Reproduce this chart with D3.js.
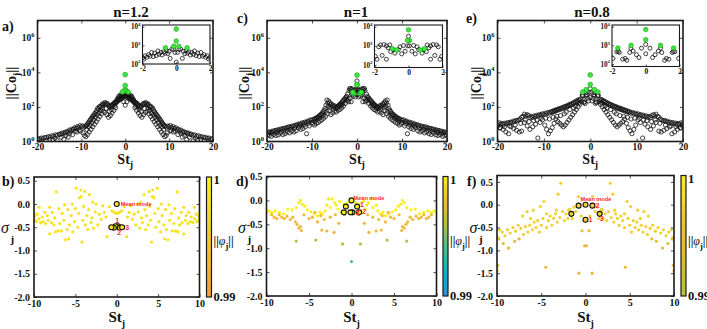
<!DOCTYPE html>
<html>
<head>
<meta charset="utf-8">
<script src="https://cdn.jsdelivr.net/npm/d3@7"></script>
<style>
body { margin: 0; background: #fff; }
text { font-family: "Liberation Serif", "Times New Roman", serif; font-weight: bold; fill: #111; }
</style>
</head>
<body>
<script>
// ---- data (St>0 half; the spectrum comes in conjugate pairs, mirrored at draw time) ----
var titles = ['n=1.2', 'n=1', 'n=0.8'];
var stTicksTop = [-20, -10, 0, 10, 20];
var coExp = [0, 2, 4, 6];
var insetStTicks = [-2, 0, 2];
var insetCoExp = [2, 3, 4];
var stTicksBot = [-10, -5, 0, 5, 10];
var sigmaTicks = [0.5, 0, -0.5, -1, -1.5, -2];

// [St, log10 ||Co||]
var coA_near = [[0,2.10],[0.08,2.62],[0.16,2.78],[0.26,2.80],[0.36,2.30],[0.42,2.68],[0.5,2.55],[0.58,2.72],[0.66,2.58],[0.74,2.66],[0.84,2.48],[0.92,2.62],[1.02,2.52],[1.08,2.70],[1.18,2.45],[1.28,2.58],[1.36,2.40],[1.46,2.62],[1.55,2.42],[1.64,2.50],[1.74,2.36],[1.84,2.44],[1.92,2.26],[1.98,2.34]];
var coA_upper = [[2.1,2.30],[2.25,2.22],[2.4,2.26],[2.55,2.15],[2.7,2.20],[2.85,2.08],[3.0,2.12],[3.15,2.02],[3.3,2.06],[3.5,1.98],[3.7,2.05],[3.9,2.12],[4.1,2.18],[4.3,2.22],[4.5,2.15],[4.7,2.25],[4.9,2.18],[5.1,2.10],[5.3,2.16],[5.5,2.05],[5.7,1.98],[5.9,2.02],[6.1,1.88],[6.3,1.92],[6.5,1.78],[6.7,1.70],[6.9,1.62],[7.1,1.55],[7.3,1.48],[7.5,1.42],[7.7,1.35],[7.9,1.28],[8.1,1.20],[8.3,1.12],[8.5,1.05],[8.7,0.98],[8.9,0.92],[9.1,0.88],[9.4,0.82],[9.7,0.90],[10.0,0.85],[10.3,0.92],[10.6,0.80],[10.9,0.86],[11.2,0.75],[11.5,0.80],[11.8,0.70],[12.1,0.72],[12.4,0.62],[12.7,0.66],[13.0,0.55],[13.3,0.58],[13.6,0.50],[13.9,0.52],[14.2,0.45],[14.5,0.48],[14.8,0.40],[15.1,0.42],[15.5,0.36],[15.9,0.38],[16.3,0.30],[16.7,0.33],[17.1,0.26],[17.5,0.28],[17.9,0.22],[18.3,0.24],[18.7,0.18],[19.1,0.20],[19.5,0.14],[19.9,0.16]];
var coA_lower = [[2.2,1.95],[2.6,1.80],[3.0,1.65],[3.4,1.50],[3.8,1.40],[4.2,1.55],[4.6,1.68],[5.0,1.75],[5.4,1.60],[5.8,1.45],[6.2,1.30],[6.6,1.15],[7.0,1.00],[7.4,0.85],[7.8,0.70],[8.2,0.55],[8.6,0.40],[9.0,0.28],[9.3,0.35],[9.6,0.50],[10.2,0.60],[11.0,0.55],[12.0,0.40],[13.0,0.25],[14.0,0.12],[15.5,0.04],[16.5,0.10],[18.0,0.05]];
var coA_mid = [[2.4,2.05],[3.2,1.85],[3.6,1.75],[4.4,1.90],[5.2,1.92],[5.6,1.80],[6.0,1.65],[6.4,1.55],[6.8,1.40],[7.2,1.25],[7.6,1.10],[8.0,0.95],[8.4,0.85],[8.8,0.70],[10.5,0.65],[11.4,0.60],[12.6,0.48],[13.5,0.35],[14.6,0.25],[16.0,0.20],[17.2,0.12],[19.0,0.05]];
var coA_green = [[0,3.87],[0,3.23],[0.15,2.95],[0.64,2.87]];

var coC_near = [[0,3.50],[0.05,3.00],[0.2,2.72],[0.3,3.02],[0.4,2.58],[0.5,2.95],[0.6,2.80],[0.8,2.62],[0.9,2.80],[1.05,2.70],[1.1,3.05],[1.2,2.90],[1.3,3.00],[1.3,2.30],[1.45,3.07],[1.55,2.50],[1.65,3.05],[1.75,2.95],[1.85,2.30],[1.95,2.45]];
var coC_upper = [[2.1,2.75],[2.3,2.62],[2.5,2.55],[2.7,2.48],[2.9,2.42],[3.1,2.35],[3.3,2.30],[3.5,2.22],[3.7,2.18],[3.9,2.12],[4.1,2.08],[4.3,2.02],[4.5,1.98],[4.7,1.95],[4.9,2.05],[5.1,2.00],[5.3,2.10],[5.5,2.05],[5.7,2.18],[5.9,2.12],[6.1,2.25],[6.3,2.35],[6.5,2.22],[6.7,2.40],[6.9,2.10],[7.1,1.90],[7.3,1.80],[7.5,1.72],[7.7,1.65],[7.9,1.58],[8.1,1.55],[8.3,1.50],[8.5,1.45],[8.7,1.42],[8.9,1.38],[9.1,1.35],[9.3,1.32],[9.5,1.30],[9.8,1.26],[10.1,1.22],[10.4,1.25],[10.7,1.15],[11.0,1.18],[11.3,1.10],[11.6,1.12],[11.9,1.05],[12.2,1.08],[12.5,1.00],[12.8,1.02],[13.1,0.95],[13.4,0.98],[13.7,0.90],[14.0,0.92],[14.3,0.86],[14.6,0.88],[14.9,0.82],[15.2,0.85],[15.5,0.78],[15.8,0.80],[16.1,0.74],[16.4,0.76],[16.7,0.70],[17.0,0.72],[17.3,0.66],[17.6,0.68],[17.9,0.62],[18.2,0.64],[18.5,0.58],[18.8,0.60],[19.1,0.54],[19.4,0.56],[19.7,0.50],[19.95,0.52]];
var coC_lower = [[2.2,2.35],[2.6,2.20],[3.0,2.05],[3.4,1.95],[3.8,1.85],[4.2,1.80],[4.6,1.70],[5.0,1.75],[5.4,1.65],[5.8,1.55],[6.2,1.80],[6.6,1.60],[7.0,1.45],[7.4,1.35],[7.8,1.25],[8.2,1.18],[8.6,1.10],[9.0,1.05],[9.4,0.95],[9.8,1.00],[10.6,0.90],[11.2,0.45],[11.5,0.85],[12.0,0.75],[12.5,0.70],[13.0,0.78],[13.5,0.62],[14.0,0.55],[14.5,0.60],[15.0,0.50],[15.5,0.55],[16.0,0.45],[16.5,0.40],[17.0,0.48],[17.5,0.38],[18.0,0.35],[18.5,0.40],[19.0,0.30],[19.5,0.33]];
var coC_mid = [[2.4,2.45],[3.2,2.18],[3.6,2.08],[4.4,1.90],[5.2,1.88],[6.0,1.95],[6.4,2.05],[6.8,1.75],[7.6,1.50],[8.4,1.35],[9.2,1.20],[10.0,1.10],[10.9,1.02],[11.8,0.95],[12.8,0.88],[13.8,0.78],[14.8,0.72],[15.8,0.65],[16.8,0.58],[17.8,0.52],[18.8,0.48],[19.8,0.40]];
var coC_green = [[0,3.84],[0.06,3.28],[0.7,2.78],[0.95,2.85]];

var coE_near = [[0,3.05],[0,2.55],[0.25,2.85],[0.4,2.35],[0.55,2.50],[0.75,2.70],[0.88,2.85],[0.95,2.62],[1.12,2.20],[1.22,2.30],[1.37,2.26],[1.57,2.62],[1.63,2.68],[1.72,2.66],[1.94,2.30]];
var coE_upper = [[2.1,2.45],[2.3,2.38],[2.5,2.42],[2.7,2.32],[2.9,2.36],[3.1,2.25],[3.3,2.30],[3.5,2.20],[3.7,2.24],[3.9,2.15],[4.1,2.18],[4.3,2.10],[4.5,2.14],[4.7,2.05],[4.9,2.08],[5.1,2.00],[5.3,2.04],[5.5,1.96],[5.7,2.00],[5.9,1.92],[6.1,1.95],[6.3,1.88],[6.5,1.92],[6.7,1.84],[6.9,1.88],[7.1,1.80],[7.3,1.84],[7.5,1.76],[7.7,1.80],[7.9,1.72],[8.1,1.76],[8.3,1.68],[8.5,1.72],[8.8,1.64],[9.1,1.68],[9.4,1.60],[9.7,1.64],[10.0,1.56],[10.3,1.60],[10.6,1.52],[10.9,1.56],[11.2,1.48],[11.5,1.52],[11.8,1.44],[12.1,1.48],[12.4,1.40],[12.7,1.45],[13.0,1.38],[13.3,1.50],[13.6,1.55],[13.9,1.48],[14.2,1.58],[14.5,1.45],[14.8,1.40],[15.1,1.30],[15.4,1.25],[15.7,1.20],[16.0,1.22],[16.3,1.15],[16.6,1.18],[16.9,1.10],[17.2,1.12],[17.5,1.05],[17.8,1.10],[18.1,1.02],[18.4,1.06],[18.7,0.98],[19.0,1.05],[19.3,1.00],[19.6,1.08],[19.9,1.02]];
var coE_lower = [[2.2,2.15],[2.6,2.00],[3.0,1.85],[3.4,1.70],[3.8,1.55],[4.2,1.40],[4.6,1.25],[5.0,1.10],[5.4,0.95],[5.8,0.85],[6.2,0.95],[6.6,1.05],[7.0,1.15],[7.4,1.30],[7.8,1.05],[8.2,0.80],[8.6,0.62],[9.0,0.45],[9.4,0.70],[9.8,0.95],[10.3,1.25],[10.8,1.10],[11.3,0.20],[11.8,1.00],[12.4,0.85],[13.0,0.70],[13.6,0.90],[14.2,1.10],[14.8,0.60],[15.3,0.55],[15.9,0.65],[16.5,0.75],[17.1,0.85],[17.6,0.45],[18.2,0.55],[18.8,0.70],[19.4,0.80],[19.9,0.90]];
var coE_mid = [[2.4,2.25],[3.2,2.05],[3.6,1.95],[4.4,1.85],[5.2,1.70],[5.6,1.60],[6.4,1.50],[7.2,1.45],[8.0,1.40],[8.8,1.30],[9.6,1.35],[10.6,1.35],[11.5,1.25],[12.2,1.20],[13.2,1.15],[14.0,1.25],[15.0,1.05],[16.2,0.95],[17.4,0.90],[18.5,0.85],[19.5,0.78]];
var coE_green = [[0,3.85],[0,3.30],[0.87,3.0],[1.65,2.86]];

// [St, sigma] (b: all modes have ||phi|| close to 1)
var normB = 0.998;
var sigB = [[0.3,-0.18],[0.6,-0.15],[0.9,-0.06],[1.2,-0.70],[1.3,-0.28],[1.5,-0.18],[1.7,-0.04],[1.9,-0.33],[2.1,-0.22],[2.3,-0.45],[2.5,0.00],[2.6,-0.17],[2.8,-0.52],[2.9,0.04],[3.0,-0.30],[3.1,-0.40],[3.3,0.20],[3.4,-0.12],[3.5,-0.55],[3.6,-0.25],[3.8,-0.45],[3.9,0.27],[4.0,-0.05],[4.1,-0.35],[4.2,-0.82],[4.3,0.16],[4.35,0.30],[4.5,0.13],[4.6,-0.20],[4.7,-0.50],[4.9,0.34],[5.0,-0.10],[5.1,-0.38],[5.3,-0.60],[5.4,0.00],[5.5,-0.25],[5.7,-0.45],[5.8,-0.75],[5.9,-0.12],[6.0,-0.55],[6.2,-0.77],[6.3,-0.02],[6.4,-0.35],[6.6,-0.20],[6.7,-0.58],[6.9,-0.42],[7.0,-0.10],[7.1,-0.58],[7.3,0.26],[7.4,-0.60],[7.5,-0.30],[7.6,-0.45],[7.8,-0.18],[7.9,-0.40],[8.1,-0.64],[8.1,-0.07],[8.3,-0.35],[8.4,-0.25],[8.6,-0.42],[8.7,-0.18],[8.9,-0.38],[9.0,-0.28],[9.2,-0.40],[9.4,-0.07],[9.4,-0.32],[9.6,-0.22],[9.7,-0.38],[9.8,-0.36],[9.9,-0.25],[10.0,-0.18],[10.0,-0.30],[0.1,-0.2]];
var hiB = [[0,0],[0.15,-0.48],[0.35,-0.51],[0.65,-0.50]];

// [St, sigma, ||phi||]
var sigD = [[0.3,-0.25,1],[0.5,-0.05,1],[0.9,-0.08,1],[1.2,-0.25,1],[1.4,-0.02,1],[1.6,-0.18,1],[1.8,-0.10,1],[2.0,-0.05,1],[2.3,0.03,1],[2.5,-0.15,1],[2.7,0.03,1],[2.9,-0.10,1],[3.1,-0.22,1],[3.4,-0.28,1],[3.7,-0.25,1],[4.0,-0.32,1],[4.4,-0.28,1],[4.8,-0.24,1],[5.2,-0.20,1],[5.5,-0.12,1],[5.8,-0.08,1],[6.0,0.0,1],[6.2,-0.05,1],[6.5,-0.15,1],[7.0,-0.20,1],[7.5,-0.18,1],[8.0,-0.28,1],[8.5,-0.25,1],[9.0,-0.22,1],[9.4,-0.25,1],[9.7,-0.22,1],[10.0,-0.25,1],
  [1.5,-0.48,0.998],[2.05,-0.67,0.998],[2.5,-0.35,0.998],[2.9,-0.64,0.998],[3.2,-0.40,0.998],[3.5,-0.62,0.998],[4.0,-0.45,0.998],[4.6,-0.35,0.998],[5.0,-0.38,0.998],[5.6,-0.30,0.998],[5.9,-0.63,0.998],[6.0,-0.55,0.998],[6.2,-0.58,0.998],[6.4,-0.50,0.998],[6.6,-0.45,0.998],[6.9,-0.35,0.998],[7.2,-0.40,0.998],[7.6,-0.33,0.998],[7.9,-0.38,0.998],[8.2,-0.35,0.998],[8.5,-0.30,0.998],[8.8,-0.38,0.998],[9.1,-0.35,0.998],[9.4,-0.30,0.998],[0.8,-0.30,0.998],[1.9,-0.30,0.998],[3.6,-0.32,0.998],[4.3,-0.25,0.998],
  [1.05,-0.91,0.9962],[4.2,-0.83,0.9962],[6.5,-0.85,0.9962],
  [0,-1.28,0.9942]];
var hiD = [[0,0,1],[0.66,-0.13,1],[0.9,-0.25,1],[0.12,-0.25,1]];

var sigF = [[0.5,-0.25,0.9975],[0.8,0.18,0.9975],[1.1,-0.15,0.9975],[1.3,-0.05,0.9975],[1.5,-0.30,0.9975],[1.8,-0.10,0.9975],[2.0,-0.30,0.9975],[2.2,-0.20,0.9975],[2.4,-0.35,0.9975],[2.6,-0.15,0.9975],[2.8,0.47,0.9975],[2.9,-0.28,0.9975],[3.1,0.23,0.9975],[3.2,-0.38,0.9975],[3.4,-0.20,0.9975],[3.6,-0.30,0.9975],[3.8,-0.45,0.9975],[4.0,-0.25,0.9975],[4.2,-0.35,0.9975],[4.4,-0.50,0.9975],[4.7,0.07,0.9975],[4.8,-0.30,0.9975],[5.0,-0.45,0.9975],[5.2,-0.60,0.9975],[5.4,-0.35,0.9975],[5.6,-0.50,0.9975],[5.8,-0.38,0.9975],[6.0,-0.55,0.9975],[6.3,-0.45,0.9975],[6.5,-0.60,0.9975],[6.8,-0.48,0.9975],[7.0,-0.65,0.9975],[7.3,-0.52,0.9975],[7.6,-0.45,0.9975],[7.9,-0.58,0.9975],[8.2,-0.50,0.9975],[8.5,-0.62,0.9975],[8.8,-0.55,0.9975],[9.1,-0.68,0.9975],[9.4,-0.60,0.9975],[9.7,-0.55,0.9975],[9.9,-0.72,0.9975],[1.9,-0.12,0.9975],[3.3,-0.12,0.9975],[4.4,-0.20,0.9975],[5.1,-0.04,0.9975],[5.9,-0.12,0.9975],[6.2,-0.30,0.9975],[7.1,-0.25,0.9975],[6.6,-0.15,0.9975],
  [0.4,-0.57,0.994],[0.1,-0.90,0.994],[0.75,-1.50,0.994],[4.5,-1.37,0.994],[9.9,-1.33,0.994],[10.0,-1.45,0.994],[8.7,-0.95,0.994],[9.8,-0.75,0.994],[8.0,-0.80,0.994],[9.3,-0.85,0.994],[7.5,-0.75,0.994]];
var hiF = [[0,0,0.9975],[0.78,-0.02,0.9975],[1.6,-0.20,0.9975],[0,-0.33,0.9975]];

// ---- drawing ----
var svg = d3.select('body').append('svg').attr('width', 707).attr('height', 329);
var defs = svg.append('defs');
var clipCount = 0;

function mirror(pts) {
    return pts.concat(pts.filter(function(p) { return p[0] > 0; }).map(function(p) { return [-p[0]].concat(p.slice(1)); }));
}

function addClip(x0, y0, w, h) {
    var id = 'clip' + (clipCount++);
    defs.append('clipPath').attr('id', id).append('rect').attr('x', x0).attr('y', y0).attr('width', w).attr('height', h);
    return 'url(#' + id + ')';
}

function styleAxis(sel, size) {
    sel.select('.domain').remove();
    sel.selectAll('.tick line').attr('stroke', '#222').attr('stroke-width', 0.8);
    sel.selectAll('.tick text').attr('font-size', size);
}

function powLabels(g, vals, xPos, yFn, size) {
    var t = g.selectAll(null).data(vals).enter().append('text')
        .attr('x', xPos).attr('y', function(e) { return yFn(e) + size * 0.35; })
        .attr('text-anchor', 'end').attr('font-size', size);
    t.append('tspan').text('10');
    t.append('tspan').attr('dy', -size * 0.45).attr('font-size', size * 0.68).text(function(e) { return e; });
}

function drawTop(p) {
    var g = svg.append('g');
    var x = d3.scaleLinear().domain([-20, 20]).range([p.x0, p.x1]);
    var y = d3.scaleLog().domain([1, 1e7]).range([p.y1, p.y0]);
    var pts = mirror(p.near.concat(p.upper, p.mid, p.lower));
    var greens = mirror(p.green);

    var plot = g.append('g').attr('clip-path', addClip(p.x0, p.y0, p.x1 - p.x0, p.y1 - p.y0));
    plot.selectAll('circle.o').data(pts).enter().append('circle').attr('class', 'o')
        .attr('cx', function(d) { return x(d[0]); }).attr('cy', function(d) { return y(Math.pow(10, d[1])); })
        .attr('r', 2.1).attr('fill', 'none').attr('stroke', '#111').attr('stroke-width', 0.8);
    plot.selectAll('circle.g').data(greens).enter().append('circle').attr('class', 'g')
        .attr('cx', function(d) { return x(d[0]); }).attr('cy', function(d) { return y(Math.pow(10, d[1])); })
        .attr('r', 2.4).attr('fill', '#3be83b').attr('stroke', '#1c9c1c').attr('stroke-width', 0.6);

    g.append('g').attr('transform', 'translate(0,' + p.y1 + ')')
        .call(d3.axisBottom(x).tickValues(stTicksTop).tickSizeInner(-3).tickSizeOuter(0).tickPadding(1.5).tickFormat(function(d) { return String(d); }))
        .call(function(s) { styleAxis(s, 9.5); });
    g.append('g').attr('transform', 'translate(0,' + p.y0 + ')')
        .call(d3.axisTop(x).tickValues(stTicksTop).tickSizeInner(-3).tickSizeOuter(0).tickFormat(''))
        .call(function(s) { styleAxis(s, 9.5); });
    var yt = coExp.map(function(e) { return Math.pow(10, e); });
    g.append('g').attr('transform', 'translate(' + p.x0 + ',0)')
        .call(d3.axisLeft(y).tickValues(yt).tickSizeInner(-3).tickSizeOuter(0).tickFormat(''))
        .call(function(s) { styleAxis(s, 9.5); });
    g.append('g').attr('transform', 'translate(' + p.x1 + ',0)')
        .call(d3.axisRight(y).tickValues(yt).tickSizeInner(-3).tickSizeOuter(0).tickFormat(''))
        .call(function(s) { styleAxis(s, 9.5); });
    powLabels(g, coExp, p.x0 - 3, function(e) { return y(Math.pow(10, e)); }, 9.5);

    g.append('rect').attr('x', p.x0).attr('y', p.y0).attr('width', p.x1 - p.x0).attr('height', p.y1 - p.y0)
        .attr('fill', 'none').attr('stroke', '#1a1a1a').attr('stroke-width', 1.6);

    // inset, zoom on |St| < 2
    var q = p.ins;
    var ix = d3.scaleLinear().domain([-2, 2]).range([q.x0, q.x1]);
    var iy = d3.scaleLog().domain([Math.pow(10, q.lo), Math.pow(10, q.hi)]).range([q.y1, q.y0]);
    g.append('rect').attr('x', q.x0).attr('y', q.y0).attr('width', q.x1 - q.x0).attr('height', q.y1 - q.y0).attr('fill', '#fff');
    var ip = g.append('g').attr('clip-path', addClip(q.x0, q.y0, q.x1 - q.x0, q.y1 - q.y0));
    var near = pts.filter(function(d) { return Math.abs(d[0]) <= 2.1; });
    ip.selectAll('circle.o').data(near).enter().append('circle').attr('class', 'o')
        .attr('cx', function(d) { return ix(d[0]); }).attr('cy', function(d) { return iy(Math.pow(10, d[1])); })
        .attr('r', 2.0).attr('fill', 'none').attr('stroke', '#111').attr('stroke-width', 0.8);
    ip.selectAll('circle.g').data(greens).enter().append('circle').attr('class', 'g')
        .attr('cx', function(d) { return ix(d[0]); }).attr('cy', function(d) { return iy(Math.pow(10, d[1])); })
        .attr('r', 2.3).attr('fill', '#3be83b').attr('stroke', '#1c9c1c').attr('stroke-width', 0.6);
    g.append('g').attr('transform', 'translate(0,' + q.y1 + ')')
        .call(d3.axisBottom(ix).tickValues(insetStTicks).tickSizeInner(-2).tickSizeOuter(0).tickPadding(2).tickFormat(function(d) { return String(d); }))
        .call(function(s) { styleAxis(s, 7.5); });
    var iyt = insetCoExp.map(function(e) { return Math.pow(10, e); });
    g.append('g').attr('transform', 'translate(' + q.x0 + ',0)')
        .call(d3.axisLeft(iy).tickValues(iyt).tickSizeInner(-2).tickSizeOuter(0).tickFormat(''))
        .call(function(s) { styleAxis(s, 7.5); });
    powLabels(g, insetCoExp, q.x0 - 2, function(e) { return iy(Math.pow(10, e)); }, 7.2);
    g.append('rect').attr('x', q.x0).attr('y', q.y0).attr('width', q.x1 - q.x0).attr('height', q.y1 - q.y0)
        .attr('fill', 'none').attr('stroke', '#1a1a1a').attr('stroke-width', 1.1);

    // labels
    g.append('text').attr('x', p.titleX).attr('y', 17).attr('text-anchor', 'middle').attr('font-size', 15).text(p.title);
    g.append('text').attr('x', p.letterX).attr('y', p.letterY).attr('font-size', 14).text(p.letter);
    var xl = g.append('text').attr('x', (p.x0 + p.x1) / 2).attr('y', 164).attr('text-anchor', 'middle').attr('font-size', 14);
    xl.append('tspan').text('St');
    xl.append('tspan').attr('dy', 4).attr('font-size', 10).text('j');
    var yl = g.append('text').attr('transform', 'translate(' + p.ylabX + ',' + ((p.y0 + p.y1) / 2 + 2) + ') rotate(-90)')
        .attr('text-anchor', 'middle').attr('font-size', 14);
    yl.append('tspan').text('||Co');
    yl.append('tspan').attr('dy', 4).attr('font-size', 10).text('j');
    yl.append('tspan').attr('dy', -4).text('||');
}

function drawBot(p) {
    var g = svg.append('g');
    var x = d3.scaleLinear().domain([-10, 10]).range([p.x0, p.x1]);
    var y = d3.scaleLinear().domain([-2, p.ymax]).range([p.y1, p.y0]);
    var color = d3.scaleLinear().domain(p.cb.map(function(s) { return s[0]; })).range(p.cb.map(function(s) { return s[1]; }));
    var pts = mirror(p.pts);
    var hi = mirror(p.hi);

    var plot = g.append('g').attr('clip-path', addClip(p.x0, p.y0, p.x1 - p.x0, p.y1 - p.y0));
    plot.selectAll('circle.p').data(pts).enter().append('circle').attr('class', 'p')
        .attr('cx', function(d) { return x(d[0]); }).attr('cy', function(d) { return y(d[1]); })
        .attr('r', 1.6).attr('fill', function(d) { return color(d[2]); });
    plot.selectAll('circle.h').data(hi).enter().append('circle').attr('class', 'h')
        .attr('cx', function(d) { return x(d[0]); }).attr('cy', function(d) { return y(d[1]); })
        .attr('r', 2.5).attr('fill', function(d) { return color(d[2]); }).attr('stroke', '#111').attr('stroke-width', 1.1);

    g.selectAll(null).data(p.notes).enter().append('text')
        .attr('x', function(d) { return x(d.st) + d.dx; }).attr('y', function(d) { return y(d.s) + d.dy; })
        .attr('text-anchor', function(d) { return d.anchor || 'start'; })
        .style('font-family', '"Liberation Sans", Arial, sans-serif').style('fill', '#ff2626')
        .attr('font-size', function(d) { return d.t.length > 1 ? 5.6 : 7; }).text(function(d) { return d.t; });

    g.append('g').attr('transform', 'translate(0,' + p.y1 + ')')
        .call(d3.axisBottom(x).tickValues(stTicksBot).tickSizeInner(-3).tickSizeOuter(0).tickPadding(3).tickFormat(function(d) { return String(d); }))
        .call(function(s) { styleAxis(s, 10); });
    g.append('g').attr('transform', 'translate(0,' + p.y0 + ')')
        .call(d3.axisTop(x).tickValues(stTicksBot).tickSizeInner(-3).tickSizeOuter(0).tickFormat(''))
        .call(function(s) { styleAxis(s, 10); });
    g.append('g').attr('transform', 'translate(' + p.x0 + ',0)')
        .call(d3.axisLeft(y).tickValues(sigmaTicks).tickSizeInner(-3).tickSizeOuter(0).tickPadding(4).tickFormat(function(d) { return d.toFixed(1); }))
        .call(function(s) { styleAxis(s, 10); });
    g.append('g').attr('transform', 'translate(' + p.x1 + ',0)')
        .call(d3.axisRight(y).tickValues(sigmaTicks).tickSizeInner(-3).tickSizeOuter(0).tickFormat(''))
        .call(function(s) { styleAxis(s, 10); });
    g.append('rect').attr('x', p.x0).attr('y', p.y0).attr('width', p.x1 - p.x0).attr('height', p.y1 - p.y0)
        .attr('fill', 'none').attr('stroke', '#1a1a1a').attr('stroke-width', 1.6);

    // colorbar
    var gid = 'grad' + p.letter.charAt(0);
    var grad = defs.append('linearGradient').attr('id', gid).attr('x1', 0).attr('y1', 1).attr('x2', 0).attr('y2', 0);
    grad.selectAll('stop').data(p.cb).enter().append('stop')
        .attr('offset', function(s) { return (s[0] - 0.99) / 0.01; }).attr('stop-color', function(s) { return s[1]; });
    g.append('rect').attr('x', p.cbx).attr('y', p.y0).attr('width', 5).attr('height', p.y1 - p.y0)
        .attr('fill', 'url(#' + gid + ')').attr('stroke', '#1a1a1a').attr('stroke-width', 1.2);
    g.append('text').attr('x', p.cbx + 7).attr('y', p.y0 + 7).attr('font-size', 12.5).text('1');
    g.append('text').attr('x', p.cbx + 7).attr('y', p.y1 + 4).attr('font-size', 12.5).text('0.99');
    var cl = g.append('text').attr('x', p.cbx + 7).attr('y', 245).attr('font-size', 12);
    cl.append('tspan').text('||');
    cl.append('tspan').style('font-style', 'italic').style('font-weight', 'normal').text('\u03c6');
    cl.append('tspan').attr('dy', 4).attr('font-size', 8.5).text('j');
    cl.append('tspan').attr('dy', -4).text('||');

    // labels
    g.append('text').attr('x', p.letterX).attr('y', 186).attr('font-size', 14).text(p.letter);
    var xl = g.append('text').attr('x', (p.x0 + p.x1) / 2).attr('y', 322).attr('text-anchor', 'middle').attr('font-size', 15);
    xl.append('tspan').text('St');
    xl.append('tspan').attr('dy', 5).attr('font-size', 10).text('j');
    g.append('text').attr('x', p.sigX).attr('y', 233).attr('font-size', 16)
        .style('font-style', 'italic').style('font-weight', 'normal').text('\u03c3');
    g.append('text').attr('x', p.sigX + 9.5).attr('y', 243).attr('font-size', 11).text('j');
}

var topPanels = [
    { x0: 37.5, x1: 213, y0: 20.5, y1: 141.5, title: titles[0], titleX: 131, letter: 'a)', letterX: 2, letterY: 31, ylabX: 16,
      near: coA_near, upper: coA_upper, mid: coA_mid, lower: coA_lower, green: coA_green,
      ins: { x0: 142.5, x1: 210, y0: 25, y1: 64, lo: 2, hi: 4.09 } },
    { x0: 267, x1: 447, y0: 20.5, y1: 141.5, title: titles[1], titleX: 356, letter: 'c)', letterX: 237, letterY: 23, ylabX: 249,
      near: coC_near, upper: coC_upper, mid: coC_mid, lower: coC_lower, green: coC_green,
      ins: { x0: 374.5, x1: 442.5, y0: 25, y1: 67.5, lo: 1.87, hi: 4.09 } },
    { x0: 497.5, x1: 683, y0: 20.5, y1: 141.5, title: titles[2], titleX: 592, letter: 'e)', letterX: 466, letterY: 23, ylabX: 481,
      near: coE_near, upper: coE_upper, mid: coE_mid, lower: coE_lower, green: coE_green,
      ins: { x0: 612, x1: 679.5, y0: 25, y1: 66.5, lo: 1.87, hi: 4.09 } }
];
topPanels.forEach(drawTop);

var botPanels = [
    { x0: 34, x1: 199.5, y0: 177, y1: 297, ymax: 0.58, cbx: 206.5, letter: 'b)', letterX: 2, sigX: 1,
      pts: sigB.map(function(d) { return [d[0], d[1], normB]; }), hi: hiB.map(function(d) { return [d[0], d[1], normB]; }),
      cb: [[0.99, '#efa03a'], [1.0, '#f9f21c']],
      notes: [{ t: 'Mean mode', st: 0, s: 0, dx: 4, dy: 2 }, { t: '1', st: 0.05, s: -0.5, dx: 0, dy: -4, anchor: 'middle' },
              { t: '3', st: 0.65, s: -0.5, dx: 3, dy: 2.5 }, { t: '2', st: 0.3, s: -0.5, dx: 0, dy: 8, anchor: 'middle' }] },
    { x0: 266.5, x1: 436.5, y0: 176.5, y1: 296, ymax: 0.5, cbx: 443, letter: 'd)', letterX: 236, sigX: 238,
      pts: sigD, hi: hiD,
      cb: [[0.99, '#2d8fe3'], [0.992, '#16afc8'], [0.994, '#46c08c'], [0.996, '#b2c040'], [0.998, '#f2b83e'], [1.0, '#f8ef1e']],
      notes: [{ t: 'Mean mode', st: 0, s: 0, dx: 2, dy: -0.5 }, { t: '1', st: 0.66, s: -0.13, dx: 3, dy: 0 },
              { t: '3', st: 0.12, s: -0.25, dx: 3, dy: 3 }, { t: '2', st: 0.9, s: -0.25, dx: 3, dy: 1.5 }] },
    { x0: 497, x1: 674, y0: 175.5, y1: 296, ymax: 0.64, cbx: 681, letter: 'f)', letterX: 467, sigX: 469.5,
      pts: sigF, hi: hiF,
      cb: [[0.99, '#b5c43c'], [0.994, '#e8b83a'], [0.997, '#f2c935'], [1.0, '#f5ee20']],
      notes: [{ t: 'Mean mode', st: 0, s: 0, dx: -5, dy: -4 }, { t: '2', st: 0.78, s: -0.02, dx: 3, dy: 2.5 },
              { t: '3', st: 1.6, s: -0.2, dx: 0, dy: 7 }, { t: '1', st: 0, s: -0.33, dx: 3, dy: 2.5 }] }
];
botPanels.forEach(drawBot);
</script>
</body>
</html>
